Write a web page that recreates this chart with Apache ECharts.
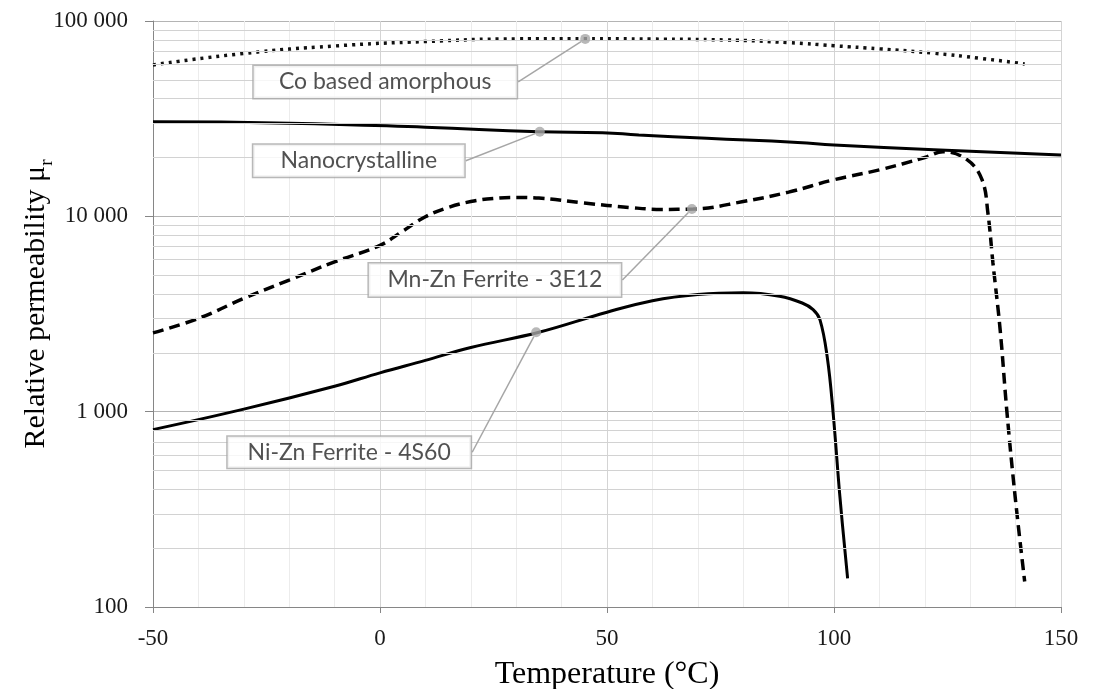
<!DOCTYPE html>
<html>
<head>
<meta charset="utf-8">
<script src="https://cdn.jsdelivr.net/npm/echarts@6/dist/echarts.min.js"></script>
<style>
	html, body{ margin:0; padding:0; background:#fff; }
	#chart{ width:1096px; height:689px; }
</style>
</head>
<body>
<div id="chart"></div>
<script type="text/javascript">
// temperature (°C) / relative permeability
var tempCo   = [-50, -30, -10, 10, 30, 45, 60, 76, 90, 100, 110, 122, 132, 142];
var permCo   = [59600, 68200, 74500, 78500, 81000, 81200, 80800, 80000, 77500, 74700, 72000, 68400, 64500, 60300];

var tempNano = [-50, -20, 10, 35, 49, 57, 72, 92, 100, 122, 150];
var permNano = [30500, 30000, 28600, 27100, 26800, 26100, 25100, 23900, 23200, 21900, 20600];

var tempMnZn = [-50, -40, -30, -20, -10, 0, 5, 10, 15, 20, 25, 30, 35, 45, 55, 62, 69, 80, 90, 100, 110, 120, 124, 129.3, 132.6, 133.9, 135, 136.6, 138.1, 139.9, 142];
var permMnZn = [2530, 3000, 3800, 4720, 5850, 7100, 8400, 9950, 11100, 11900, 12350, 12500, 12400, 11700, 11100, 10850, 10900, 11900, 13300, 15400, 17300, 20000, 21400, 19500, 15400, 10400, 5800, 2620, 990, 367, 135];

var tempNiZn = [-50, -30, -10, 0, 10, 20, 35, 50, 60, 70, 80, 88, 93, 95.4, 96.9, 98.5, 99.8, 101.3, 103];
var permNiZn = [809, 1030, 1350, 1580, 1830, 2130, 2550, 3230, 3700, 3980, 4060, 3900, 3600, 3330, 2960, 1910, 990, 367, 140];

// callouts: text, point on the curve
var noteText = ['Co based amorphous', 'Nanocrystalline', 'Mn-Zn Ferrite - 3E12', 'Ni-Zn Ferrite - 4S60'];
var noteTemp = [45.2, 35.2, 68.7, 34.4];
var notePerm = [81000, 27100, 10900, 2550];

// axis ticks
var xTicks = [-50, 0, 50, 100, 150];
var yTicks = [100, 1000, 10000, 100000];
var yTickLabels = ['100', '1 000', '10 000', '100 000'];

function pairs(t, v){
	var out = [];
	for (var i = 0; i < t.length; i++) {
		out.push([t[i], v[i]]);
	}
	return out;
}

// minor log grid lines 2..9 of each decade
var minorLines = [];
for (var d = 0; d < yTicks.length - 1; d++) {
	for (var k = 2; k <= 9; k++) {
		minorLines.push({yAxis: yTicks[d] * k});
	}
}

// callout box placement (offset from the point) and size
var noteBox = [
	{dx: -200, dy: 43, w: 263, h: 32},
	{dx: -181, dy: 29, w: 211, h: 32},
	{dx: -197, dy: 71, w: 252, h: 33},
	{dx: -187, dy: 120, w: 243, h: 31}
];

var notes = [];
for (var i = 0; i < noteText.length; i++) {
	notes.push({
		name: noteText[i],
		value: [noteTemp[i], notePerm[i]],
		label: {width: noteBox[i].w, height: noteBox[i].h, lineHeight: noteBox[i].h}
	});
}

var serif = '"Liberation Serif", "Times New Roman", serif';

var myChart = echarts.init(document.getElementById('chart'), null, {renderer: 'canvas'});
var option = {
	animation: false,
	backgroundColor: '#fff',
	grid: {left: 153, right: 35, top: 21, bottom: 82, containLabel: false, outerBoundsMode: 'none'},
	xAxis: {
		type: 'value',
		min: -50,
		max: 150,
		interval: 50,
		name: 'Temperature (°C)',
		nameLocation: 'middle',
		nameGap: 52,
		nameMoveOverlap: false,
		nameTextStyle: {fontFamily: serif, fontSize: 32, color: '#000'},
		axisLine: {onZero: false, lineStyle: {color: '#868686', width: 1}},
		axisTick: {show: true, inside: false, length: 6, lineStyle: {color: '#868686'}},
		axisLabel: {
			fontFamily: serif, fontSize: 23, color: '#1a1a1a', margin: 20,
			formatter: function(v){ return xTicks.indexOf(v) >= 0 ? String(v) : ''; }
		},
		splitLine: {show: true, lineStyle: {color: '#d4d4d4', width: 1}},
		minorTick: {show: false, splitNumber: 5},
		minorSplitLine: {show: true, lineStyle: {color: '#ececec', width: 1}}
	},
	yAxis: {
		type: 'log',
		logBase: 10,
		min: 100,
		max: 100000,
		name: '{m|Relative permeability μ}{sub|r}',
		nameLocation: 'middle',
		nameGap: 96,
		nameMoveOverlap: false,
		nameTextStyle: {
			padding: [0, 0, 0, 20],
			rich: {
				m: {fontFamily: serif, fontSize: 30, color: '#000', lineHeight: 36, verticalAlign: 'top'},
				sub: {fontFamily: serif, fontSize: 19, color: '#000', lineHeight: 19, verticalAlign: 'top', padding: [17, 0, 0, 0]}
			}
		},
		axisLine: {show: true, onZero: false, lineStyle: {color: '#868686', width: 1}},
		axisTick: {show: true, inside: false, length: 8, lineStyle: {color: '#868686'}},
		axisLabel: {
			fontFamily: serif, fontSize: 23, color: '#1a1a1a', margin: 25,
			formatter: function(v){
				var i = yTicks.indexOf(Math.round(v));
				return i >= 0 ? yTickLabels[i] : '';
			}
		},
		splitLine: {show: true, lineStyle: {color: '#b4b4b4', width: 1}}
	},
	series: [
		{
			name: 'grid',
			type: 'line',
			data: [],
			silent: true,
			z: 1,
			markLine: {
				silent: true,
				symbol: ['none', 'none'],
				label: {show: false},
				lineStyle: {color: '#d2d2d2', width: 1, type: 'solid'},
				data: minorLines
			}
		},
		{
			name: 'Co based amorphous',
			type: 'line',
			z: 3,
			data: pairs(tempCo, permCo),
			smooth: 0.5,
			showSymbol: false,
			lineStyle: {color: '#111', width: 3.5, type: [3, 5], cap: 'butt'}
		},
		{
			name: 'Nanocrystalline',
			type: 'line',
			z: 3,
			data: pairs(tempNano, permNano),
			smooth: 0.5,
			showSymbol: false,
			lineStyle: {color: '#000', width: 3}
		},
		{
			name: 'Mn-Zn Ferrite - 3E12',
			type: 'line',
			z: 3,
			data: pairs(tempMnZn, permMnZn),
			smooth: 0.4,
			showSymbol: false,
			lineStyle: {color: '#000', width: 3.5, type: [11, 6]}
		},
		{
			name: 'Ni-Zn Ferrite - 4S60',
			type: 'line',
			z: 3,
			data: pairs(tempNiZn, permNiZn),
			smooth: 0.4,
			showSymbol: false,
			lineStyle: {color: '#000', width: 3}
		},
		{
			name: 'callouts',
			type: 'scatter',
			z: 5,
			symbol: 'circle',
			symbolSize: 10,
			itemStyle: {color: '#a6a6a6'},
			label: {
				show: true,
				position: 'inside',
				formatter: '{b}',
				fontFamily: 'Lato, "Liberation Sans", sans-serif',
				fontSize: 23,
				color: '#262626',
				align: 'center',
				verticalAlign: 'middle',
				backgroundColor: '#fff',
				borderColor: '#a6a6a6',
				borderWidth: 1.5,
				padding: 0
			},
			labelLayout: function(params){
				var b = noteBox[params.dataIndex];
				return {dx: b.dx, dy: b.dy};
			},
			labelLine: {show: true, lineStyle: {color: '#a6a6a6', width: 1.5}},
			data: notes
		}
	]
};
myChart.setOption(option);
</script>
</body>
</html>
